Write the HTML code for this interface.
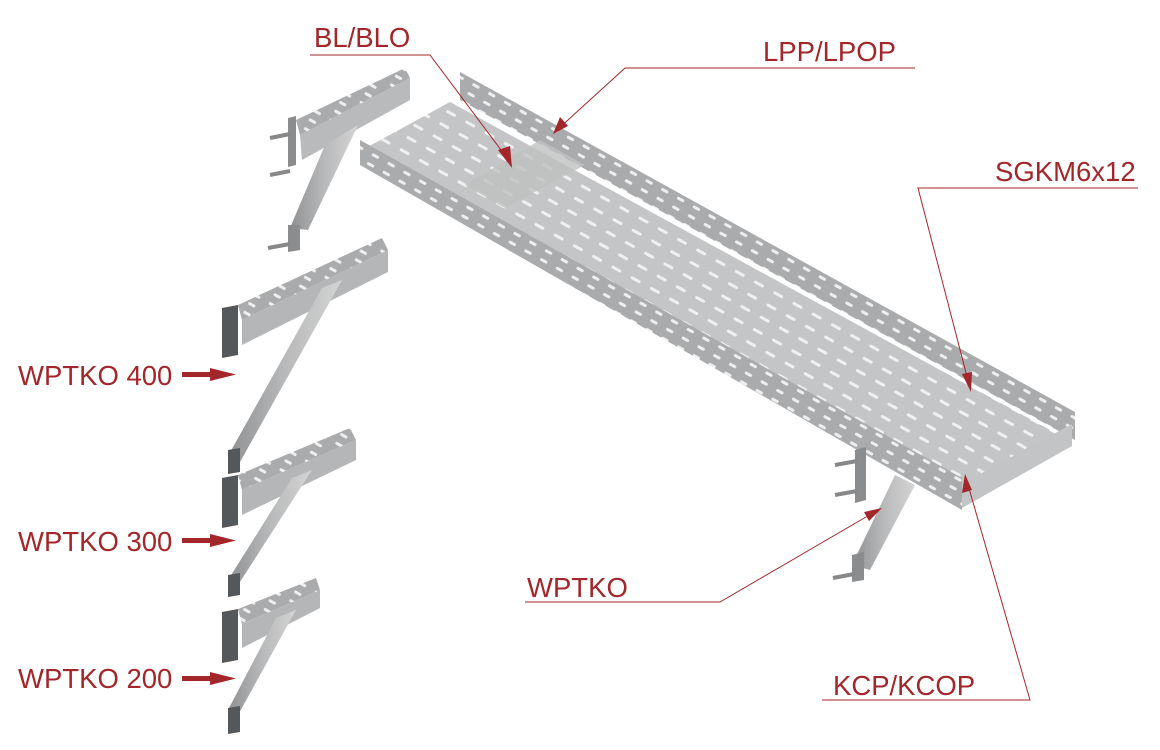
<!DOCTYPE html>
<html><head><style>
html,body{margin:0;padding:0;background:#fff;}
svg{display:block;}
text{font-family:"Liberation Sans",sans-serif;font-size:27.5px;fill:#a3262a;}
</style></head><body>
<svg width="1160" height="750" viewBox="0 0 1160 750" xmlns="http://www.w3.org/2000/svg">
<defs>
<pattern id="holes" width="22" height="14" patternUnits="userSpaceOnUse" patternTransform="rotate(29)">
<rect width="22" height="14" fill="#c4c5c6"/>
<rect x="4" y="5" width="11" height="3" rx="1.5" fill="#f0f0f0"/>
</pattern>
<pattern id="wholes" width="18" height="10" patternUnits="userSpaceOnUse" patternTransform="rotate(29)">
<rect width="18" height="10" fill="#a9abad"/>
<rect x="4" y="3" width="8" height="3" rx="1.5" fill="#eeeeee"/>
</pattern>
<linearGradient id="strut" x1="0" x2="1"><stop offset="0" stop-color="#8e9092"/><stop offset="0.5" stop-color="#b8b9ba"/><stop offset="1" stop-color="#d4d4d4"/></linearGradient>
</defs>

<!-- top-left bracket -->
<polygon points="288,118 296,116 296,165 288,167" fill="#8a8c8e"/>
<line x1="270" y1="138" x2="290" y2="134" stroke="#888" stroke-width="4"/>
<line x1="270" y1="175" x2="290" y2="171" stroke="#888" stroke-width="4"/>
<polygon points="296,120 405,68 410,78 300,135" fill="url(#wholes)"/>
<polygon points="300,135 410,78 410,100 302,160" fill="#b9babb"/>
<polygon points="325,145 358,125 308,230 290,228" fill="url(#strut)"/>
<polygon points="288,225 300,225 300,250 288,252" fill="#8a8c8e"/>
<line x1="268" y1="248" x2="290" y2="244" stroke="#888" stroke-width="4"/>

<!-- tray far wall -->
<polygon points="460,72 1075,412 1075,440 460,100" fill="url(#wholes)"/>
<!-- tray floor -->
<polygon points="362,150 450,102 1072,442 962,488" fill="url(#holes)"/>
<!-- joint plate -->
<polygon points="465,185 540,140 585,165 505,208" fill="#bfc0c1" opacity="0.8"/>
<!-- near wall -->
<polygon points="360,140 962,478 962,510 360,165" fill="url(#wholes)"/>
<!-- right end face -->
<polygon points="962,484 1072,424 1072,446 962,508" fill="#c3c4c5"/>

<!-- lower-right bracket -->
<polygon points="855,450 866,447 866,500 855,503" fill="#8a8c8e"/>
<line x1="835" y1="465" x2="857" y2="461" stroke="#888" stroke-width="4"/>
<line x1="835" y1="495" x2="857" y2="491" stroke="#888" stroke-width="4"/>
<polygon points="895,475 915,485 870,570 852,565" fill="url(#strut)"/>
<polygon points="852,555 864,552 864,580 852,582" fill="#8a8c8e"/>
<line x1="833" y1="578" x2="854" y2="574" stroke="#888" stroke-width="4"/>

<!-- WPTKO 400 bracket -->
<polygon points="222,308 238,305 238,355 222,358" fill="#55585a"/>
<polygon points="238,305 382,238 388,250 242,320" fill="url(#wholes)"/>
<polygon points="242,320 388,250 388,272 242,345" fill="#b5b6b7"/>
<polygon points="322,288 342,280 240,462 228,456" fill="url(#strut)"/>
<polygon points="228,450 240,448 240,472 228,474" fill="#55585a"/>

<!-- WPTKO 300 bracket -->
<polygon points="222,478 238,475 238,525 222,528" fill="#55585a"/>
<polygon points="238,475 350,428 356,440 242,490" fill="url(#wholes)"/>
<polygon points="242,490 356,440 356,460 242,515" fill="#b5b6b7"/>
<polygon points="292,478 312,470 238,585 228,580" fill="url(#strut)"/>
<polygon points="228,575 240,573 240,595 228,597" fill="#55585a"/>

<!-- WPTKO 200 bracket -->
<polygon points="222,612 238,609 238,660 222,663" fill="#55585a"/>
<polygon points="238,609 316,578 320,590 242,624" fill="url(#wholes)"/>
<polygon points="242,624 320,590 320,608 242,648" fill="#b5b6b7"/>
<polygon points="276,618 296,610 238,715 228,710" fill="url(#strut)"/>
<polygon points="228,708 240,706 240,732 228,734" fill="#55585a"/>

<!-- leader lines -->
<g stroke="#a3262a" stroke-width="1" fill="none">
<polyline points="310,55 430,55 510,162"/>
<polyline points="915,68 625,68 557,130"/>
<polyline points="1138,188 918,188 970,388"/>
<polyline points="525,602 720,602 878,510"/>
<polyline points="822,700 1030,700 966,478"/>
</g>
<g fill="#a3262a">
<polygon points="512,168 498,150 510,146"/>
<polygon points="553,134 560,117 568,126"/>
<polygon points="971,392 962,374 972,372"/>
<polygon points="882,508 864,512 869,521"/>
<polygon points="965,474 962,493 972,490"/>
<rect x="182" y="372" width="30" height="5"/><polygon points="210,368 236,374.5 210,381"/>
<rect x="182" y="538" width="30" height="5"/><polygon points="210,534 236,540.5 210,547"/>
<rect x="182" y="676" width="30" height="5"/><polygon points="210,672 236,678.5 210,685"/>
</g>

<text x="314" y="47">BL/BLO</text>
<text x="763" y="61">LPP/LPOP</text>
<text x="995" y="181">SGKM6x12</text>
<text x="527" y="597">WPTKO</text>
<text x="833" y="695">KCP/KCOP</text>
<text x="18" y="385">WPTKO 400</text>
<text x="18" y="551">WPTKO 300</text>
<text x="18" y="688">WPTKO 200</text>
</svg>
</body></html>
